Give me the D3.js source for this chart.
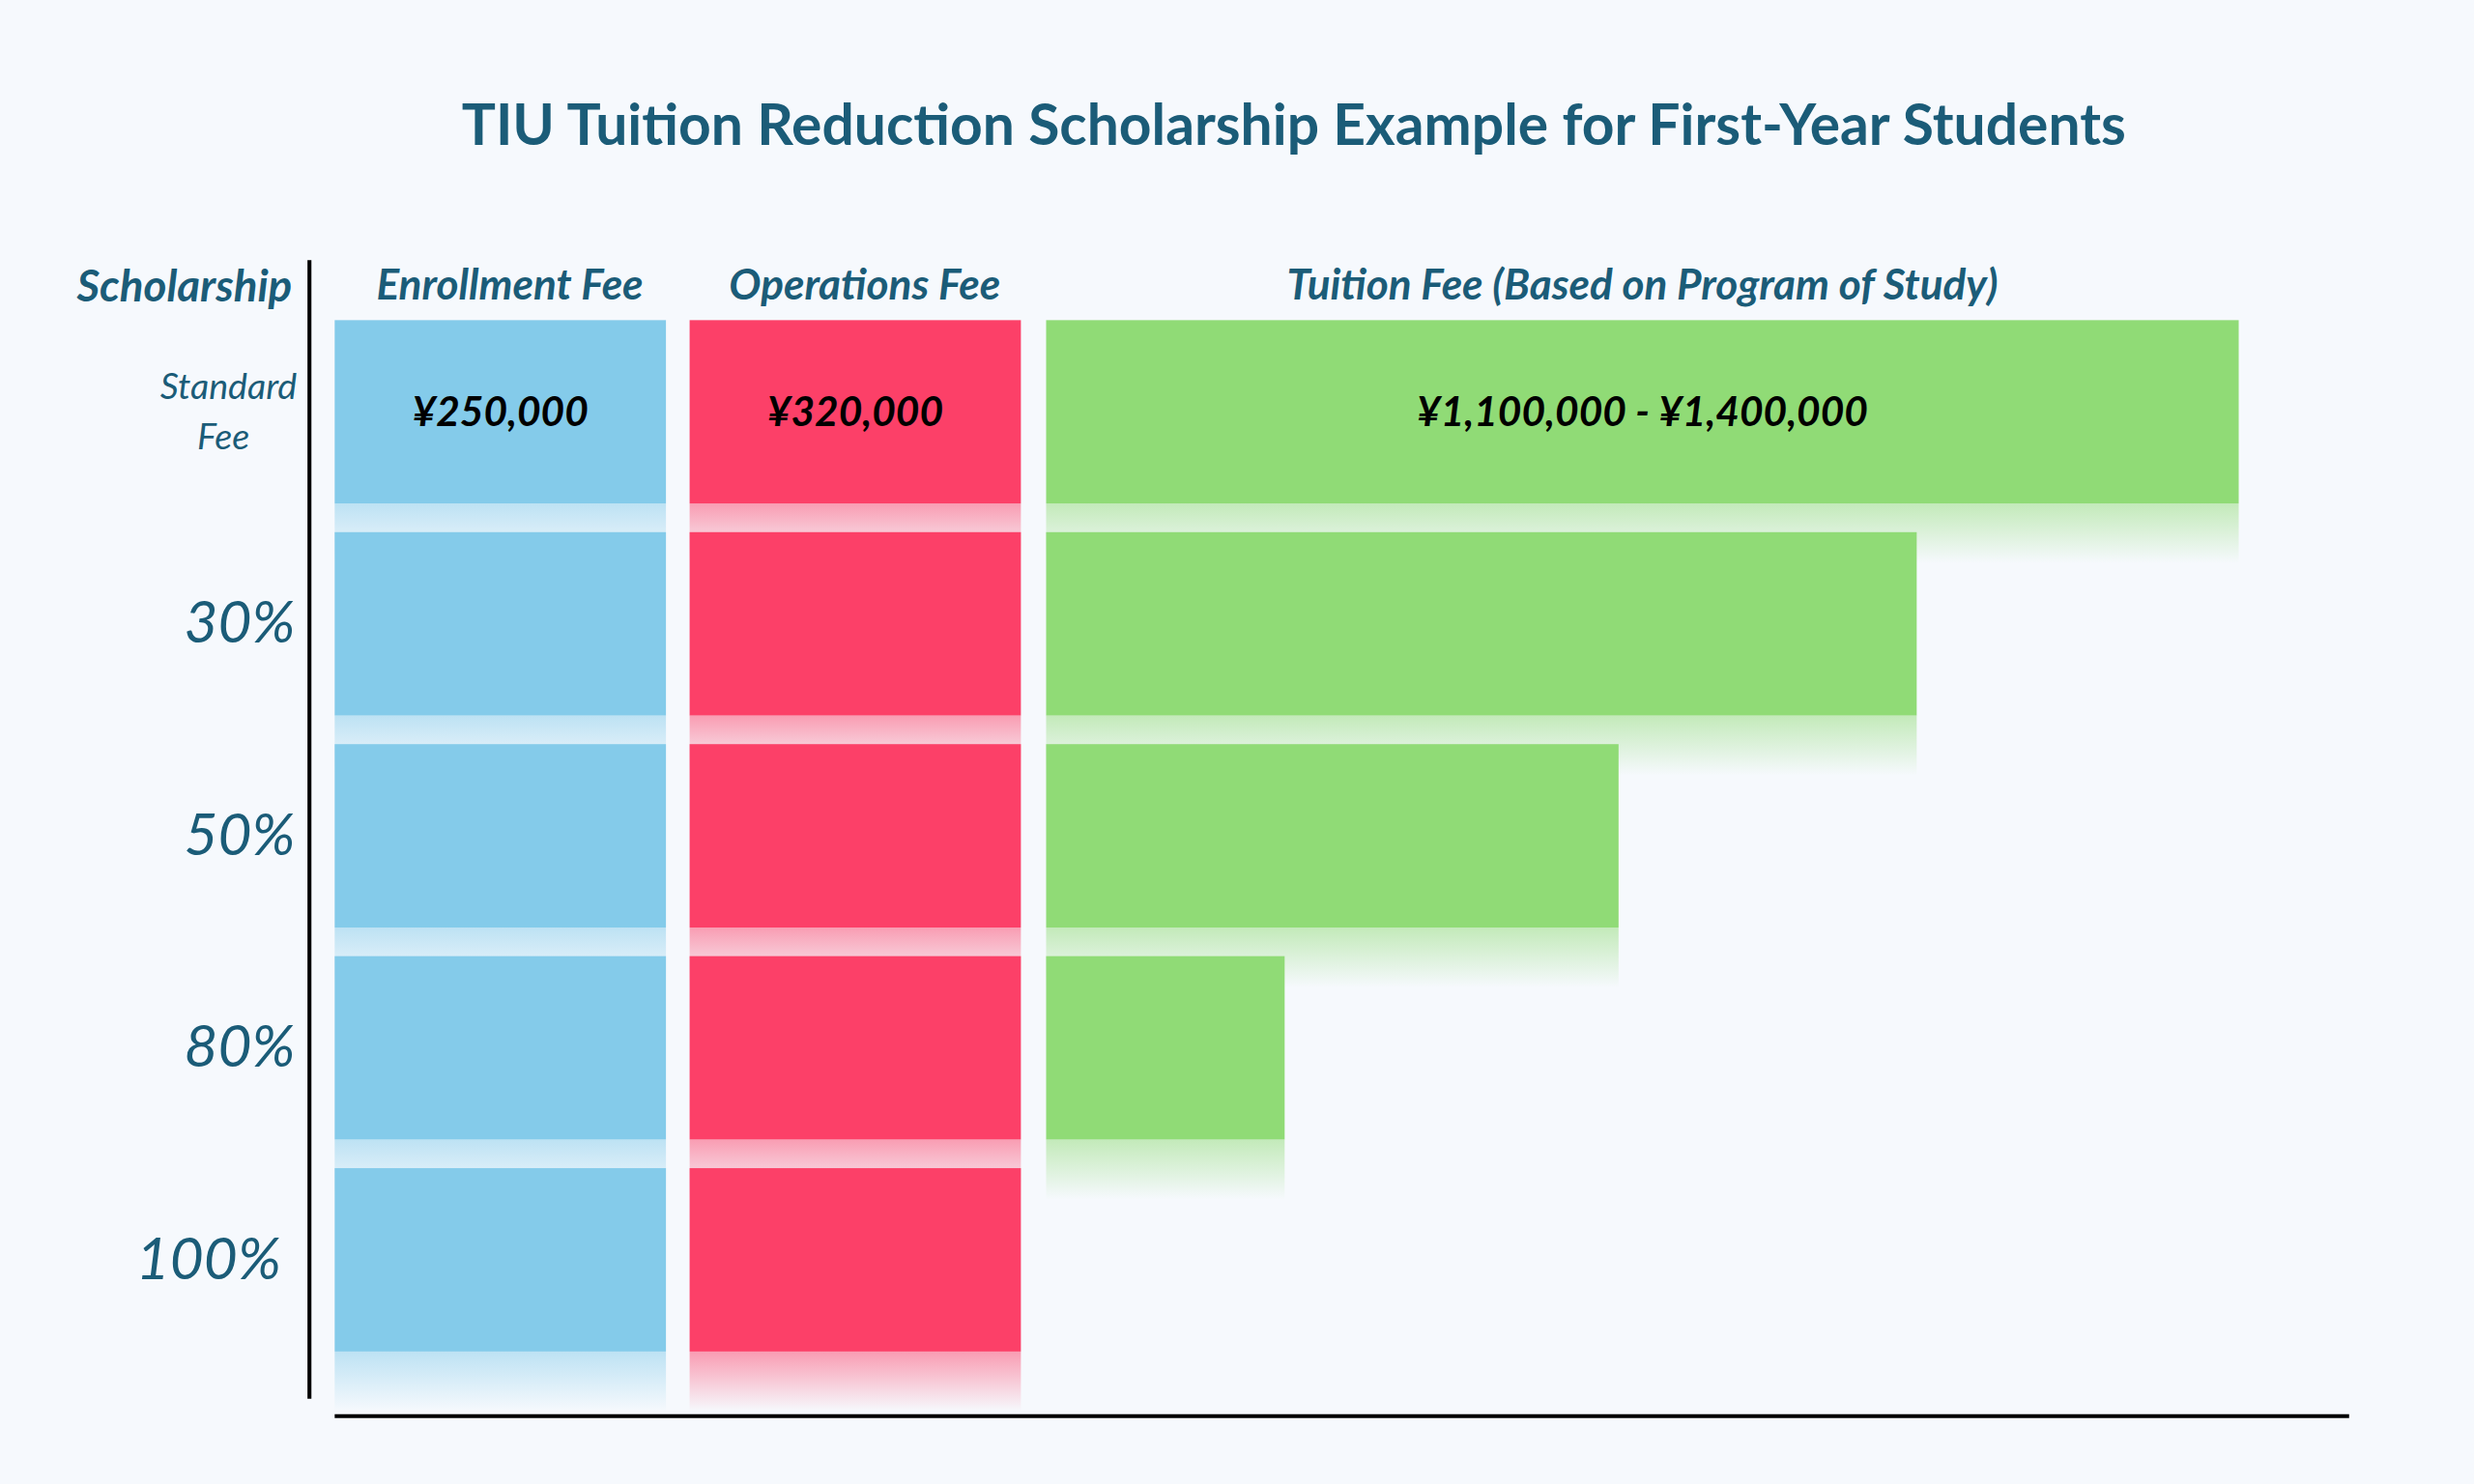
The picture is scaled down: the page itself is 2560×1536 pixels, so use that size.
<!DOCTYPE html>
<html><head><meta charset="utf-8">
<script src="https://cdn.jsdelivr.net/npm/d3@7"></script>
<style>
body{margin:0;background:#f6f9fd;}
text{font-family:Lato,"Open Sans",sans-serif;}
</style></head>
<body><svg id="chart"></svg>
<script>
const rows = ["Standard Fee", "30%", "50%", "80%", "100%"];
const columns = ["Enrollment Fee", "Operations Fee", "Tuition Fee (Based on Program of Study)"];
const enrollment = [100, 100, 100, 100, 100];
const operations = [100, 100, 100, 100, 100];
const tuition = [100, 73, 48, 20, 0];   // share of tuition bar width as drawn
const feeLabels = ["¥250,000", "¥320,000", "¥1,100,000 - ¥1,400,000"];
const colors = ["#84cbea", "#fc4068", "#90db76"];

const W = 1568, H = 941;
const svg = d3.select('#chart')
  .attr('width', 2560).attr('height', 1536)
  .attr('viewBox', `0 0 ${W} ${H}`);

const y = d3.scaleBand().domain(rows).range([203, 857]).paddingInner(0.135).paddingOuter(0);
const colX = [[212, 422], [437, 647], [663, 1419]];
const scales = colX.map(c => d3.scaleLinear().domain([0, 100]).range(c));

// reflection gradients
const defs = svg.append('defs');
colors.forEach((c, i) => {
  const g = defs.append('linearGradient').attr('id', 'fade' + i).attr('x1', 0).attr('x2', 0).attr('y1', 0).attr('y2', 1);
  g.append('stop').attr('offset', 0).attr('stop-color', c).attr('stop-opacity', 0.5);
  g.append('stop').attr('offset', 1).attr('stop-color', c).attr('stop-opacity', 0);
});

svg.append('text').attr('x', 820).attr('y', 92).attr('text-anchor', 'middle')
  .attr('font-size', 36).attr('font-weight', 'bold').attr('fill', '#1b5c78')
  .text('TIU Tuition Reduction Scholarship Example for First-Year Students');

const series = [enrollment, operations, tuition];
series.forEach((vals, i) => {
  const x = scales[i];
  const g = svg.append('g');
  const h = y.bandwidth();
  g.selectAll('.refl').data(vals.map((v, k) => ({v, r: rows[k]})).filter(d => d.v > 0))
    .join('rect')
    .attr('x', x(0)).attr('width', d => x(d.v) - x(0))
    .attr('y', d => y(d.r) + h).attr('height', 38)
    .attr('fill', `url(#fade${i})`);
  g.selectAll('.bar').data(vals.map((v, k) => ({v, r: rows[k]})).filter(d => d.v > 0))
    .join('rect')
    .attr('x', x(0)).attr('width', d => x(d.v) - x(0))
    .attr('y', d => y(d.r)).attr('height', h)
    .attr('fill', colors[i]);
  g.append('text')
    .attr('x', (x(0) + x(100)) / 2).attr('y', y(rows[0]) + h / 2 + 9)
    .attr('text-anchor', 'middle').attr('font-size', 26).attr('font-weight', 'bold').attr('font-style', 'italic')
    .attr('fill', '#000').text(feeLabels[i]);
  svg.append('text')
    .attr('x', (x(0) + x(100)) / 2 + (i == 2 ? 0 : 6)).attr('y', 190)
    .attr('text-anchor', 'middle').attr('font-size', 27).attr('font-weight', 'bold').attr('font-style', 'italic')
    .attr('fill', '#1b5c78').text(columns[i]);
});

svg.append('text').attr('x', 185).attr('y', 191).attr('text-anchor', 'end')
  .attr('font-size', 28).attr('font-weight', 'bold').attr('font-style', 'italic')
  .attr('fill', '#1b5c78').text('Scholarship');

// row labels
rows.forEach((r, k) => {
  const cy = y(r) + y.bandwidth() / 2;
  if (k == 0) {
    const t = svg.append('text').attr('text-anchor', 'end').attr('font-size', 23).attr('font-style', 'italic').attr('fill', '#1b5c78');
    t.append('tspan').attr('x', 188).attr('y', cy - 8).text('Standard');
    t.append('tspan').attr('x', 158).attr('y', cy + 24).text('Fee');
  } else {
    svg.append('text').attr('x', k == 4 ? 178 : 187).attr('y', cy + 12)
      .attr('text-anchor', 'end').attr('font-size', 37).attr('font-style', 'italic')
      .attr('fill', '#1b5c78').text(r);
  }
});

svg.append('line').attr('x1', 196).attr('x2', 196).attr('y1', 165).attr('y2', 887).attr('stroke', '#000').attr('stroke-width', 2.5);
svg.append('line').attr('x1', 212).attr('x2', 1489).attr('y1', 898).attr('y2', 898).attr('stroke', '#000').attr('stroke-width', 2.5);
</script></body></html>
